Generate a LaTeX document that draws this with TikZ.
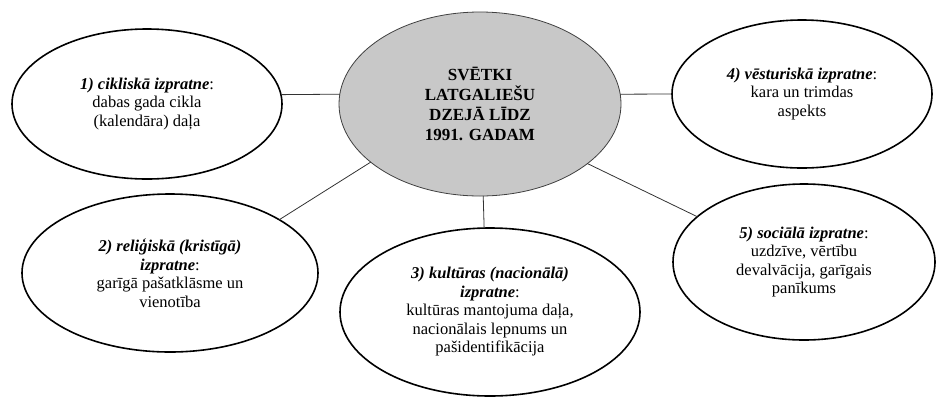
\documentclass[tikz,border=0pt]{standalone}
\usepackage{fontspec}
\setmainfont{Liberation Serif}
\usetikzlibrary{shapes.geometric}
\definecolor{hubgray}{RGB}{200,200,200}
\newcommand\headword[1]{\textbf{\textit{#1}}}
\begin{document}
\begin{tikzpicture}[x=1pt,y=-1pt,
  idea/.style={ellipse, draw=black, line width=1.6pt, fill=white,
    inner sep=0pt, outer sep=0pt, align=center,
    font=\fontsize{16.5}{18.5}\selectfont},
  hub/.style={ellipse, draw=black!75, line width=0.8pt, fill=hubgray,
    inner sep=0pt, outer sep=0pt, align=center,
    font=\fontsize{17}{20}\selectfont\bfseries},
  link/.style={draw=black!80, line width=0.8pt}]
\useasboundingbox (0,0) rectangle (936,400);

% central theme
\node[hub, minimum width=282pt, minimum height=184pt] (C) at (480,104)
  {SVĒTKI\\LATGALIEŠU\\DZEJĀ LĪDZ\\1991. GADAM};

% five interpretations
\node[idea, minimum width=270pt, minimum height=150pt] (E1) at (147,104)
  {\headword{1) cikliskā izpratne}:\\dabas gada cikla\\(kalendāra) daļa};
\node[idea, minimum width=296pt, minimum height=158pt] (E2) at (170,273)
  {\headword{2) reliģiskā (kristīgā)}\\\headword{izpratne}:\\garīgā pašatklāsme un\\vienotība};
\node[idea, minimum width=300pt, minimum height=168pt] (E3) at (490,312)
  {\headword{3) kultūras (nacionālā)}\\\headword{izpratne}:\\kultūras mantojuma daļa,\\nacionālais lepnums un\\pašidentifikācija};
\node[idea, minimum width=260pt, minimum height=148pt] (E4) at (802,94)
  {\headword{4) vēsturiskā izpratne}:\\kara un trimdas\\aspekts};
\node[idea, minimum width=262pt, minimum height=156pt] (E5) at (804,262)
  {\headword{5) sociālā izpratne}:\\uzdzīve, vērtību\\devalvācija, garīgais\\panīkums};

% connectors
\draw[link] (E1.4) -- (C.176);
\draw[link] (C.208) -- (E2.26);
\draw[link] (C.272) -- (E3.94);
\draw[link] (C.331) -- (E5.157);
\draw[link] (C.4) -- (E4.180);
\end{tikzpicture}
\end{document}
